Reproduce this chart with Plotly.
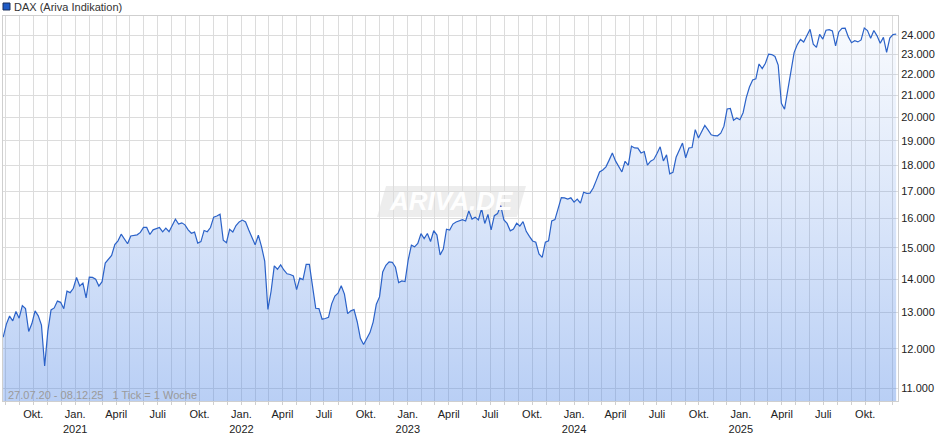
import pandas as pd
import numpy as np
import plotly.graph_objects as go

# ---------------- data ----------------
start_date = "2020-07-27"
end_date = "2025-12-08"
dates = pd.date_range(start_date, end_date, freq="7D")

dax_2020 = [12313, 12674, 12901, 12765, 13033, 12842, 13202, 13116, 12469, 12689,
            13051, 12909, 12646, 11556, 12480, 13077, 13137, 13336, 13299, 13114,
            13631, 13587, 13719]
dax_2021 = [14050, 13788, 13874, 13433, 14057, 14050, 13993, 13786, 13920, 14502,
            14621, 14749, 15107, 15234, 15460, 15280, 15136, 15400, 15417, 15437,
            15520, 15693, 15693, 15448, 15608, 15650, 15688, 15540, 15669, 15544,
            15761, 15977, 15808, 15852, 15781, 15609, 15490, 15531, 15156, 15206,
            15587, 15543, 15688, 16054, 16094, 16160, 15257, 15170, 15623, 15532,
            15756, 15885]
dax_2022 = [15948, 15883, 15603, 15318, 15100, 15425, 15042, 14567, 13094, 13628,
            14413, 14306, 14446, 14284, 14164, 14142, 14098, 13675, 14027, 13982,
            14462, 14460, 13762, 13127, 13118, 12813, 12832, 12865, 13254, 13484,
            13574, 13795, 13544, 12971, 13050, 13088, 12741, 12284, 12114, 12273,
            12438, 12731, 13243, 13460, 14224, 14431, 14541, 14529, 14370, 13893,
            13941, 13924]
dax_2023 = [14610, 15087, 15033, 15150, 15476, 15308, 15482, 15210, 15578, 15428,
            14768, 14957, 15629, 15598, 15808, 15882, 15922, 15961, 15914, 16275,
            15984, 16051, 15950, 16358, 15830, 16148, 15603, 16105, 16177, 16469,
            15952, 15832, 15574, 15632, 15840, 15740, 15893, 15557, 15387, 15230,
            15187, 14798, 14687, 15189, 15234, 15919, 15967, 16398, 16759, 16751,
            16706, 16752]
dax_2024 = [16594, 16705, 16555, 16961, 16918, 16927, 17117, 17419, 17735, 17815,
            17937, 18206, 18492, 18176, 17930, 17737, 18161, 18001, 18773, 18704,
            18693, 18498, 18557, 18002, 18164, 18235, 18475, 18748, 18172, 18418,
            17661, 17723, 18322, 18633, 18907, 18302, 18699, 18720, 19474, 19121,
            19374, 19657, 19464, 19255, 19215, 19211, 19323, 19626, 20385, 20406,
            19885, 19985, 19906]
dax_2025 = [20215, 20903, 21395, 21732, 21787, 22513, 22287, 22551, 23009, 22987,
            22892, 22462, 20642, 20374, 21206, 22242, 23087, 23499, 23767, 23630,
            23997, 24304, 23516, 23351, 24033, 23787, 24255, 24290, 24218, 23426,
            24163, 24359, 24363, 23902, 23597, 23698, 23639, 23739, 24378, 24241,
            23831, 24240, 23958, 23569, 23877, 23092, 23836, 24028, 24050]

values = dax_2020 + dax_2021 + dax_2022 + dax_2023 + dax_2024 + dax_2025
assert len(values) == len(dates), (len(values), len(dates))

y_tick_vals = [11000, 12000, 13000, 14000, 15000, 16000, 17000, 18000, 19000,
               20000, 21000, 22000, 23000, 24000, 25000]
y_tick_text = ["11.000", "12.000", "13.000", "14.000", "15.000", "16.000", "17.000",
               "18.000", "19.000", "20.000", "21.000", "22.000", "23.000", "24.000", ""]

month_starts = pd.date_range("2020-08-01", "2025-12-01", freq="MS")
month_names = {1: "Jan.", 4: "April", 7: "Juli", 10: "Okt."}
x_tick_text = []
for d in month_starts:
    if d.month == 1:
        x_tick_text.append(f"Jan.<br>{d.year}")
    elif d.month in month_names:
        x_tick_text.append(month_names[d.month])
    else:
        x_tick_text.append("")

series_name = "DAX (Ariva Indikation)"
info_text = "27.07.20 - 08.12.25\u00a0\u00a0 1 Tick = 1 Woche"
watermark = "ARIVA.DE"

# ---------------- layout geometry (pixels) ----------------
W, H = 940, 435
ML, MR, MT, MB = 3, 42, 16, 34
PW, PH = W - ML - MR, H - MT - MB
y_lo, y_hi = 10695, 25030


def px(x):
    return (x - ML) / PW


def py(y):
    return (H - MB - y) / PH


FONT = "Liberation Sans, Arial, sans-serif"
LINE_COLOR = "#2b62c8"

fig = go.Figure()
fig.add_trace(go.Scatter(
    x=dates, y=[y_lo] * len(dates), mode="lines",
    line=dict(width=0, color="rgba(0,0,0,0)"), showlegend=False, hoverinfo="skip"))
fig.add_trace(go.Scatter(
    x=dates, y=values, mode="lines", name=series_name,
    line=dict(color=LINE_COLOR, width=1.2),
    fill="tonexty",
    fillgradient=dict(type="vertical",
                      colorscale=[[0, "rgba(80,135,230,0.40)"],
                                  [0.5, "rgba(80,135,230,0.21)"],
                                  [1, "rgba(80,135,230,0.04)"]]),
    showlegend=False))

shapes = []
# legend square
shapes.append(dict(type="rect", xref="paper", yref="paper",
                   x0=px(3), x1=px(10), y0=py(10), y1=py(3),
                   fillcolor="#1f5bc6", line=dict(color="#1a2f5a", width=1)))
# watermark box (slanted)
wx0, wx1, wy0, wy1, sk = 377, 526, 186, 217, 9
path = (f"M {px(wx0 + sk)} {py(wy0)} L {px(wx1)} {py(wy0)} "
        f"L {px(wx1 - sk)} {py(wy1)} L {px(wx0)} {py(wy1)} Z")
shapes.append(dict(type="path", xref="paper", yref="paper", path=path,
                   fillcolor="rgba(0,0,0,0.07)", line=dict(width=0), layer="below"))

annotations = [
    dict(text=series_name, xref="paper", yref="paper", x=px(12), y=py(6.5),
         xanchor="left", yanchor="middle", showarrow=False,
         font=dict(family=FONT, size=11, color="#333333")),
    dict(text=info_text, xref="paper", yref="paper", x=px(6), y=py(395),
         xanchor="left", yanchor="middle", showarrow=False,
         font=dict(family=FONT, size=11, color="#9a9a9a")),
    dict(text=f"<b><i>{watermark}</i></b>", xref="paper", yref="paper",
         x=px(451), y=py(201), xanchor="center", yanchor="middle", showarrow=False,
         font=dict(family=FONT, size=26, color="rgba(255,255,255,0.97)")),
]

fig.update_layout(
    width=W, height=H,
    margin=dict(l=ML, r=MR, t=MT, b=MB, autoexpand=False),
    paper_bgcolor="white", plot_bgcolor="white",
    font=dict(family=FONT, size=11, color="#222222"),
    shapes=shapes, annotations=annotations,
    showlegend=False,
    xaxis=dict(
        type="date",
        range=[pd.Timestamp(start_date) - pd.Timedelta(hours=10),
               pd.Timestamp(end_date) + pd.Timedelta(days=4)],
        tickvals=month_starts, ticktext=x_tick_text,
        showgrid=True, gridcolor="#dcdcdc", gridwidth=1,
        ticks="outside", ticklen=3, tickcolor="#d0d0d0",
        showline=True, linecolor="#cfcfcf", mirror=True,
        tickfont=dict(family=FONT, size=11, color="#222222"),
        zeroline=False, fixedrange=True, automargin=False,
    ),
    yaxis=dict(
        type="log", side="right",
        range=[np.log10(y_lo), np.log10(y_hi)],
        tickvals=y_tick_vals, ticktext=y_tick_text,
        showgrid=True, gridcolor="#dcdcdc", gridwidth=1,
        ticks="", showline=True, linecolor="#cfcfcf", mirror=True,
        tickfont=dict(family=FONT, size=11, color="#222222"),
        zeroline=False, fixedrange=True, automargin=False,
    ),
)

fig.write_html("out.html", config={"displayModeBar": False},
               post_script="document.body.style.margin='0';document.body.style.overflow='hidden';")
